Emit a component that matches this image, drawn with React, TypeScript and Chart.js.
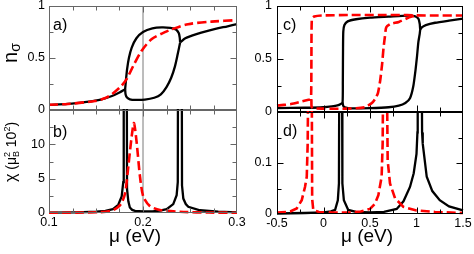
import React, { useEffect, useRef } from 'react';
import { Chart, registerables } from 'chart.js';

Chart.register(...registerables);

const W = 474;
const H = 254;
const FONT = "'Liberation Sans', Arial, Helvetica, sans-serif";

// ---------------- Panel a: n_sigma vs mu (eV) ----------------
const aMuTail = [0.100, 0.120, 0.140, 0.155, 0.167, 0.175, 0.181];
const aNTail = [0.050, 0.058, 0.078, 0.100, 0.135, 0.168, 0.200];
const aMuUpper = [0.181, 0.182, 0.1832, 0.185, 0.188, 0.193, 0.200, 0.210, 0.220, 0.229, 0.235, 0.238, 0.239, 0.2395];
const aNUpper = [0.20, 0.30, 0.40, 0.50, 0.60, 0.69, 0.75, 0.785, 0.795, 0.79, 0.775, 0.74, 0.70, 0.65];
const aMuHigh = [0.2395, 0.245, 0.252, 0.262, 0.277, 0.290, 0.300];
const aNHigh = [0.65, 0.69, 0.715, 0.745, 0.78, 0.805, 0.825];
const aMuLower = [0.181, 0.1815, 0.183, 0.186, 0.192, 0.202, 0.212, 0.219, 0.225, 0.230, 0.234, 0.237, 0.2395];
const aNLower = [0.20, 0.15, 0.12, 0.103, 0.097, 0.10, 0.118, 0.15, 0.22, 0.31, 0.42, 0.54, 0.65];
const aMuDash = [0.100, 0.120, 0.149, 0.160, 0.167, 0.177, 0.1827, 0.190, 0.1986, 0.209, 0.220, 0.232, 0.248, 0.273, 0.300];
const aNDash = [0.050, 0.058, 0.087, 0.115, 0.152, 0.233, 0.300, 0.430, 0.570, 0.680, 0.735, 0.780, 0.825, 0.850, 0.864];

// ---------------- Panel b: chi vs mu (eV) ----------------
const bMuSolid = [0.100, 0.130, 0.150, 0.160, 0.168, 0.1737, 0.1773, 0.1790, 0.1795, 0.1825, 0.1830, 0.1844, 0.186, 0.1885, 0.1915, 0.200, 0.210, 0.218, 0.2252, 0.2322, 0.2358, 0.2370, 0.2375, 0.2410, 0.2415, 0.2429, 0.2455, 0.2482, 0.2606, 0.280, 0.300];
const bChiSolid = [0.05, 0.10, 0.18, 0.30, 0.55, 1.2, 2.4, 4.5, 40, 40, 3.5, 1.7, 0.8, 0.45, 0.30, 0.22, 0.25, 0.35, 0.55, 1.3, 2.6, 4.5, 40, 40, 4.0, 2.1, 1.3, 0.9, 0.4, 0.2, 0.1];
const bMuDash = [0.100, 0.130, 0.154, 0.165, 0.172, 0.177, 0.181, 0.1844, 0.188, 0.1904, 0.1933, 0.1968, 0.2003, 0.2074, 0.218, 0.2435, 0.270, 0.300];
const bChiDash = [0.03, 0.06, 0.12, 0.30, 0.70, 1.4, 2.9, 6.8, 11.2, 13.1, 10.2, 5.3, 2.4, 1.0, 0.45, 0.15, 0.07, 0.04];

// vertical reference line in a) and b)
const refMu = 0.2;

// ---------------- Panel c: n_sigma vs mu (eV) ----------------
const cMuSolid1 = [-0.5, -0.2, 0.0, 0.09, 0.15, 0.185, 0.205, 0.208, 0.21, 0.213, 0.225, 0.26, 0.35, 0.5, 0.7, 0.9, 0.98, 1.02, 1.035, 1.04, 1.06, 1.10, 1.2, 1.35, 1.5];
const cNSolid1 = [0.037, 0.04, 0.045, 0.053, 0.062, 0.075, 0.09, 0.3, 0.6, 0.76, 0.82, 0.855, 0.875, 0.89, 0.90, 0.91, 0.905, 0.88, 0.83, 0.78, 0.80, 0.82, 0.842, 0.862, 0.88];
const cMuSolid2 = [0.205, 0.212, 0.23, 0.3, 0.5, 0.7, 0.81, 0.88, 0.93, 0.965, 0.99, 1.005, 1.02, 1.035, 1.04];
const cNSolid2 = [0.09, 0.06, 0.045, 0.035, 0.037, 0.045, 0.06, 0.085, 0.13, 0.24, 0.40, 0.52, 0.66, 0.74, 0.78];
const cMuDash1 = [-0.5, -0.35, -0.23, -0.16, -0.135, -0.13, -0.125, -0.10, -0.02, 0.3, 0.6, 0.9, 1.0, 1.2, 1.5];
const cNDash1 = [0.06, 0.075, 0.10, 0.115, 0.12, 0.5, 0.88, 0.90, 0.91, 0.915, 0.915, 0.915, 0.912, 0.91, 0.91];
const cMuDash2 = [-0.13, -0.128, -0.11, 0.0, 0.16, 0.35, 0.45, 0.52, 0.56, 0.586, 0.61, 0.63, 0.645, 0.66, 0.675, 0.72, 0.81, 0.9, 0.95, 1.0];
const cNDash2 = [0.12, 0.05, 0.035, 0.032, 0.03, 0.035, 0.047, 0.084, 0.13, 0.18, 0.30, 0.45, 0.60, 0.71, 0.80, 0.83, 0.85, 0.885, 0.90, 0.912];

// ---------------- Panel d: chi vs mu (eV) ----------------
const dMuSolid = [-0.5, -0.2, 0.0, 0.08, 0.125, 0.154, 0.166, 0.170, 0.199, 0.203, 0.219, 0.266, 0.35, 0.5, 0.65, 0.787, 0.86, 0.93, 0.97, 1.0, 1.010, 1.013, 1.056, 1.060, 1.067, 1.11, 1.17, 1.25, 1.35, 1.5];
const dChiSolid = [0.001, 0.002, 0.003, 0.005, 0.008, 0.027, 0.06, 0.3, 0.3, 0.06, 0.027, 0.008, 0.004, 0.003, 0.004, 0.01, 0.025, 0.053, 0.08, 0.118, 0.16, 0.3, 0.3, 0.16, 0.138, 0.073, 0.045, 0.027, 0.015, 0.007];
const dMuDash = [-0.5, -0.4, -0.357, -0.288, -0.234, -0.199, -0.18, -0.17, -0.163, -0.127, -0.122, -0.11, -0.05, 0.1, 0.3, 0.4, 0.5, 0.553, 0.59, 0.625, 0.636, 0.643, 0.68, 0.69, 0.715, 0.769, 0.859, 1.0, 1.2, 1.5];
const dChiDash = [0.003, 0.004, 0.005, 0.011, 0.027, 0.053, 0.073, 0.138, 0.3, 0.3, 0.03, 0.008, 0.004, 0.003, 0.003, 0.005, 0.01, 0.02, 0.037, 0.073, 0.138, 0.3, 0.3, 0.105, 0.06, 0.031, 0.014, 0.007, 0.004, 0.002];

// ---------------- helpers ----------------
const pts = (xs: number[], ys: number[]) => xs.map((x, i) => ({ x, y: ys[i] }));

const solid = (xs: number[], ys: number[], tension: number) => ({
  data: pts(xs, ys), showLine: true, borderColor: '#000', borderWidth: 2.3,
  pointRadius: 0, fill: false, tension, clip: 1,
});
const dashed = (xs: number[], ys: number[], tension: number) => ({
  data: pts(xs, ys), showLine: true, borderColor: '#ff0000', borderWidth: 2.6,
  borderDash: [9, 4], pointRadius: 0, fill: false, tension, clip: 1,
});
const refLine = (y0: number, y1: number) => ({
  data: [{ x: refMu, y: y0 }, { x: refMu, y: y1 }], showLine: true, borderColor: '#7a7a7a',
  borderWidth: 1, pointRadius: 0, fill: false, tension: 0, clip: 0,
});

const isMult = (v: number, step: number) => Math.abs(v / step - Math.round(v / step)) < 1e-6;
const fmt = (v: number) => String(parseFloat(v.toFixed(4)));

type Seg = { t: string; size: number; dy: number; adv?: boolean };
function drawVertical(ctx: CanvasRenderingContext2D, baseX: number, centerY: number, segs: Seg[]) {
  ctx.save();
  const widths = segs.map((s) => { ctx.font = `${s.size}px ${FONT}`; return ctx.measureText(s.t).width; });
  let total = 0;
  segs.forEach((s, i) => { if (s.adv !== false) total += widths[i]; });
  ctx.translate(baseX, centerY);
  ctx.rotate(-Math.PI / 2);
  ctx.textAlign = 'left';
  ctx.textBaseline = 'alphabetic';
  ctx.fillStyle = '#000';
  let x = -total / 2;
  segs.forEach((s, i) => {
    ctx.font = `${s.size}px ${FONT}`;
    ctx.fillText(s.t, x, s.dy);
    if (s.adv !== false) x += widths[i];
  });
  ctx.restore();
}

function drawText(ctx: CanvasRenderingContext2D, t: string, x: number, y: number, size: number) {
  ctx.save();
  ctx.font = `${size}px ${FONT}`;
  ctx.fillStyle = '#000';
  ctx.textAlign = 'left';
  ctx.textBaseline = 'alphabetic';
  ctx.fillText(t, x, y);
  ctx.restore();
}

type AxisSpec = { min: number; max: number; step: number; major: number; labels: boolean; hideMax?: boolean };
type PanelSpec = {
  area: { l: number; t: number; r: number; b: number };
  x: AxisSpec; y: AxisSpec; frame: string; yPad: number; xPad: number;
  label: string; labelPos: [number, number];
  datasets: any[];
  extra?: (ctx: CanvasRenderingContext2D) => void;
};

const PANELS: PanelSpec[] = [
  {
    area: { l: 49, t: 6, r: 237, b: 110 },
    x: { min: 0.1, max: 0.3, step: 0.025, major: 0.1, labels: false },
    y: { min: 0, max: 1, step: 0.25, major: 0.5, labels: true },
    frame: '#666', yPad: 4, xPad: 2, label: 'a)', labelPos: [53, 29.5],
    datasets: [
      dashed(aMuDash, aNDash, 0.3),
      solid(aMuTail, aNTail, 0.3),
      solid(aMuUpper, aNUpper, 0.3),
      solid(aMuHigh, aNHigh, 0.3),
      solid(aMuLower, aNLower, 0.3),
      refLine(0, 1),
    ],
    extra: (ctx) => drawVertical(ctx, 17, 53, [
      { t: 'n', size: 20, dy: 0 },
      { t: 'σ', size: 14, dy: 3 },
    ]),
  },
  {
    area: { l: 49, t: 110, r: 237, b: 213 },
    x: { min: 0.1, max: 0.3, step: 0.025, major: 0.1, labels: true },
    y: { min: 0, max: 15, step: 2.5, major: 5, labels: true, hideMax: true },
    frame: '#666', yPad: 4, xPad: 2, label: 'b)', labelPos: [53, 137],
    datasets: [
      dashed(bMuDash, bChiDash, 0.25),
      solid(bMuSolid, bChiSolid, 0),
      refLine(0, 15),
    ],
    extra: (ctx) => {
      drawVertical(ctx, 15.5, 152, [
        { t: 'χ', size: 16, dy: 0 },
        { t: ' (', size: 14, dy: 0 },
        { t: 'μ', size: 14, dy: 0 },
        { t: '2', size: 9, dy: -6, adv: false },
        { t: 'B', size: 9, dy: 3 },
        { t: ' 10', size: 14, dy: 0 },
        { t: '2', size: 9, dy: -6 },
        { t: ')', size: 14, dy: 0 },
      ]);
      drawText(ctx, 'μ (eV)', 109, 242, 19);
    },
  },
  {
    area: { l: 277, t: 6, r: 463, b: 112 },
    x: { min: -0.5, max: 1.5, step: 0.25, major: 0.5, labels: false },
    y: { min: 0, max: 1, step: 0.25, major: 0.5, labels: true },
    frame: '#000', yPad: 5, xPad: 2, label: 'c)', labelPos: [283, 29.5],
    datasets: [
      dashed(cMuDash1, cNDash1, 0.2),
      dashed(cMuDash2, cNDash2, 0.2),
      solid(cMuSolid1, cNSolid1, 0.2),
      solid(cMuSolid2, cNSolid2, 0.2),
    ],
  },
  {
    area: { l: 277, t: 112, r: 463, b: 214 },
    x: { min: -0.5, max: 1.5, step: 0.25, major: 0.5, labels: true },
    y: { min: 0, max: 0.2, step: 0.05, major: 0.1, labels: true, hideMax: true },
    frame: '#000', yPad: 5, xPad: 2, label: 'd)', labelPos: [283, 136],
    datasets: [
      dashed(dMuDash, dChiDash, 0),
      solid(dMuSolid, dChiSolid, 0),
    ],
    extra: (ctx) => drawText(ctx, 'μ (eV)', 341, 242, 19),
  },
];

function tickCallback(spec: AxisSpec) {
  return (v: any) => {
    const val = Number(v);
    if (!spec.labels) return '';
    if (!isMult(val, spec.major)) return '';
    if (spec.hideMax && Math.abs(val - spec.max) < 1e-9) return '';
    return fmt(val);
  };
}

function decorPlugin(p: PanelSpec) {
  return {
    id: 'decor',
    afterDraw(chart: any) {
      const ctx: CanvasRenderingContext2D = chart.ctx;
      const a = chart.chartArea;
      const xs = chart.scales.x;
      const ys = chart.scales.y;
      const L = Math.round(a.left) + 0.5;
      const R = Math.round(a.right) - 0.5;
      const T = Math.round(a.top) + 0.5;
      const B = Math.round(a.bottom) - 0.5;
      ctx.save();
      ctx.strokeStyle = p.frame;
      ctx.lineWidth = 1;
      ctx.beginPath();
      xs.ticks.forEach((t: any) => {
        const px = Math.round(xs.getPixelForValue(t.value)) + 0.5;
        if (px < L + 1 || px > R - 1) return;
        const len = isMult(t.value, p.x.major) ? 6 : 4;
        ctx.moveTo(px, B); ctx.lineTo(px, B - len);
        ctx.moveTo(px, T); ctx.lineTo(px, T + len);
      });
      ys.ticks.forEach((t: any) => {
        const py = Math.round(ys.getPixelForValue(t.value)) + 0.5;
        if (py < T + 1 || py > B - 1) return;
        const len = isMult(t.value, p.y.major) ? 6 : 4;
        ctx.moveTo(L, py); ctx.lineTo(L + len, py);
        ctx.moveTo(R, py); ctx.lineTo(R - len, py);
      });
      ctx.stroke();
      ctx.strokeRect(L, T, R - L, B - T);
      ctx.restore();
      drawText(ctx, p.label, p.labelPos[0], p.labelPos[1], 16);
      if (p.extra) p.extra(ctx);
    },
  };
}

function makeConfig(p: PanelSpec): any {
  return {
    type: 'scatter',
    data: { datasets: p.datasets },
    options: {
      responsive: false,
      maintainAspectRatio: false,
      animation: false,
      events: [],
      layout: { padding: { left: 0, top: p.area.t, right: W - p.area.r, bottom: 0 } },
      plugins: { legend: { display: false }, tooltip: { enabled: false }, title: { display: false } },
      scales: {
        x: {
          type: 'linear', position: 'bottom', min: p.x.min, max: p.x.max,
          grid: { display: false, drawTicks: false },
          border: { display: false },
          ticks: {
            stepSize: p.x.step, autoSkip: false, maxRotation: 0, minRotation: 0,
            padding: p.xPad, color: '#000', font: { family: FONT, size: 12.5 },
            callback: tickCallback(p.x),
          },
          afterFit: (s: any) => { s.height = H - p.area.b; s.paddingLeft = 0; s.paddingRight = 0; },
        },
        y: {
          type: 'linear', position: 'left', min: p.y.min, max: p.y.max,
          grid: { display: false, drawTicks: false },
          border: { display: false },
          ticks: {
            stepSize: p.y.step, autoSkip: false,
            padding: p.yPad, color: '#000', font: { family: FONT, size: 12.5 },
            callback: tickCallback(p.y),
          },
          afterFit: (s: any) => { s.width = p.area.l; s.paddingTop = 0; s.paddingBottom = 0; },
        },
      },
    },
    plugins: [decorPlugin(p)],
  };
}

export default function App() {
  const canvases = useRef<(HTMLCanvasElement | null)[]>([]);
  useEffect(() => {
    const charts = PANELS.map((p, i) => new Chart(canvases.current[i] as HTMLCanvasElement, makeConfig(p)));
    return () => charts.forEach((c) => c.destroy());
  }, []);
  return (
    <div style={{ position: 'fixed', left: 0, top: 0, width: W, height: H, background: '#fff' }}>
      {PANELS.map((_, i) => (
        <canvas
          key={i}
          ref={(el) => { canvases.current[i] = el; }}
          width={W}
          height={H}
          style={{ position: 'absolute', left: 0, top: 0, width: W, height: H }}
        />
      ))}
    </div>
  );
}
